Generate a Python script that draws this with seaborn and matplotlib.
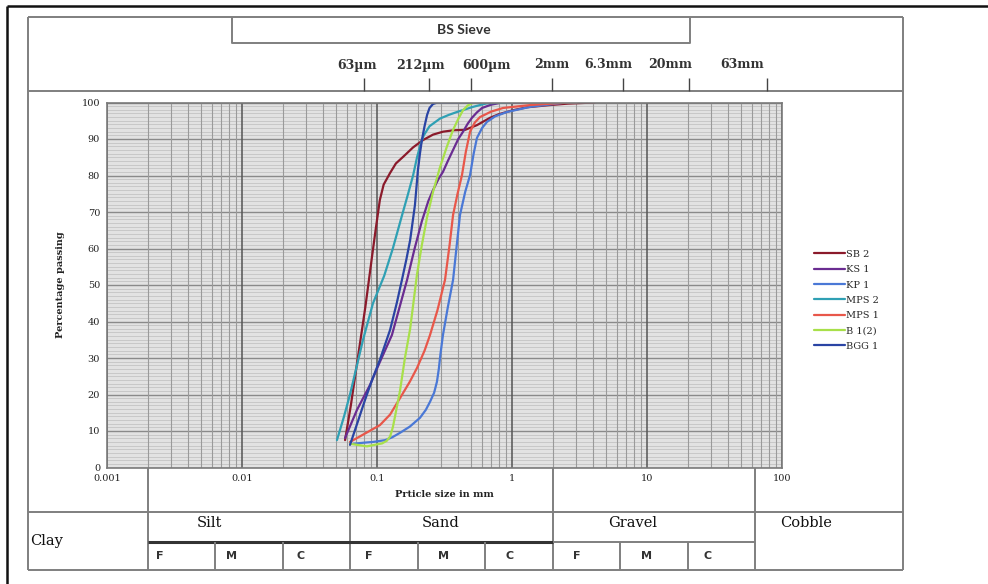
import numpy as np
import pandas as pd
import matplotlib
matplotlib.use("Agg")
import matplotlib.pyplot as plt
import matplotlib.ticker as mticker
from matplotlib import transforms
from matplotlib.lines import Line2D
import seaborn as sns

# Grading curves: particle size (mm) and percentage passing
sb2_size = [0.058, 0.064, 0.0723, 0.082, 0.0918, 0.098, 0.105, 0.112, 0.125, 0.138, 0.156, 0.185,
            0.219, 0.26, 0.308, 0.37, 0.449, 0.55, 0.687, 0.8, 1.02, 1.3, 1.91, 2.6, 4.1]
sb2_pass = [7.5, 17.0, 30.3, 44.0, 57.7, 65.5, 73.3, 77.5, 80.7, 83.3, 85.1, 87.7,
            89.7, 91.2, 92.0, 92.4, 92.5, 93.8, 95.8, 96.8, 97.9, 98.7, 99.3, 99.7, 100]

ks1_size = [0.058, 0.0711, 0.0887, 0.105, 0.129, 0.167, 0.19, 0.215, 0.24, 0.26, 0.285, 0.308,
            0.335, 0.366, 0.40, 0.434, 0.47, 0.505, 0.55, 0.60, 0.7, 0.815, 1.2]
ks1_pass = [8.1, 15.8, 22.6, 28.9, 36.3, 51.4, 60.0, 67.5, 73.0, 76.0, 79.0, 81.0,
            84.0, 87.0, 90.0, 92.0, 94.2, 95.8, 97.3, 98.5, 99.4, 99.9, 100]

kp1_size = [0.0664, 0.08, 0.0934, 0.115, 0.13, 0.148, 0.175, 0.208, 0.23, 0.247, 0.265, 0.278,
            0.287, 0.295, 0.308, 0.335, 0.366, 0.39, 0.412, 0.45, 0.489, 0.52, 0.55, 0.60,
            0.653, 0.75, 0.918, 1.36, 2.39, 3.0]
kp1_pass = [6.5, 6.8, 7.0, 7.5, 8.3, 9.5, 11.2, 13.6, 15.8, 18.0, 20.5, 23.5,
            27.0, 31.0, 36.3, 44.0, 51.4, 61.0, 69.2, 75.5, 80.1, 86.0, 90.3, 93.0,
            94.7, 96.2, 97.4, 98.8, 99.9, 100]

mps2_size = [0.0505, 0.057, 0.0631, 0.07, 0.0788, 0.0934, 0.113, 0.131, 0.153, 0.17, 0.185, 0.198,
             0.21, 0.222, 0.245, 0.293, 0.34, 0.391, 0.514, 0.653, 1.0]
mps2_pass = [7.5, 14.0, 20.0, 27.0, 35.0, 45.0, 52.5, 60.0, 69.0, 75.0, 80.0, 85.0,
             88.5, 91.0, 93.5, 95.6, 96.6, 97.4, 98.8, 99.8, 100]

mps1_size = [0.0631, 0.0788, 0.105, 0.125, 0.148, 0.175, 0.198, 0.225, 0.247, 0.28, 0.319, 0.345,
             0.366, 0.395, 0.426, 0.455, 0.489, 0.53, 0.579, 0.7, 0.858, 1.36, 2.39, 3.0]
mps1_pass = [7.0, 9.0, 11.6, 14.5, 19.0, 23.5, 27.3, 32.0, 36.3, 43.0, 51.4, 61.0,
             69.2, 75.0, 80.1, 86.5, 92.0, 94.5, 96.0, 97.5, 98.5, 99.3, 99.9, 100]

b12_size = [0.0631, 0.0843, 0.109, 0.118, 0.125, 0.131, 0.136, 0.148, 0.161, 0.176, 0.198, 0.215,
            0.235, 0.26, 0.293, 0.33, 0.366, 0.40, 0.434, 0.47, 0.514, 0.8]
b12_pass = [6.5, 5.8, 6.6, 7.3, 8.5, 11.0, 14.0, 21.0, 30.0, 38.0, 53.0, 61.0,
            68.6, 75.5, 82.3, 88.0, 92.5, 95.5, 97.9, 99.2, 99.9, 100]

bgg1_size = [0.0631, 0.072, 0.0815, 0.092, 0.105, 0.125, 0.14, 0.153, 0.165, 0.176, 0.191, 0.201,
             0.208, 0.215, 0.225, 0.235, 0.245, 0.26, 0.28, 0.8]
bgg1_pass = [6.2, 12.5, 18.5, 24.0, 29.5, 37.7, 45.0, 51.4, 57.0, 62.3, 71.9, 81.5,
             86.0, 89.7, 93.5, 96.6, 98.5, 99.6, 100, 100]

samples = ["SB 2", "KS 1", "KP 1", "MPS 2", "MPS 1", "B 1(2)", "BGG 1"]
sizes = [sb2_size, ks1_size, kp1_size, mps2_size, mps1_size, b12_size, bgg1_size]
passing = [sb2_pass, ks1_pass, kp1_pass, mps2_pass, mps1_pass, b12_pass, bgg1_pass]
colors = ["#8b1a2b", "#6a2c91", "#4a78d6", "#2fa0b4", "#e8574a", "#a8e04a", "#2a44a4"]

x_ticks = [0.001, 0.01, 0.1, 1, 10, 100]
x_tick_labels = ["0.001", "0.01", "0.1", "1", "10", "100"]

sieve_labels = ["63µm", "212µm", "600µm", "2mm", "6.3mm", "20mm", "63mm"]

# soil classes under the chart: boundaries in mm
main_bounds = [0.002, 0.063, 2, 63]
sub_bounds = [0.0063, 0.02, 0.2, 0.63, 6.3, 20]
main_classes = ["Silt", "Sand", "Gravel", "Cobble"]
sub_classes = ["F", "M", "C"] * 3

rows = []
for name, xs, ys in zip(samples, sizes, passing):
    for x, y in zip(xs, ys):
        rows.append({"sample": name, "size": x, "passing": y})
df = pd.DataFrame(rows)

sns.set_style("white")
plt.rcParams["font.family"] = ["DejaVu Serif", "DejaVu Sans"]

W, H = 988, 584
fig = plt.figure(figsize=(W / 100, H / 100), dpi=100)


def fx(x):
    return x / W


def fy(y):
    return 1 - y / H


def fline(xs, ys, color="#808080", lw=1.4, trans=None):
    if trans is None:
        xs = [fx(v) for v in xs]
        trans = fig.transFigure
    fig.add_artist(Line2D(xs, [fy(v) for v in ys], color=color, lw=lw,
                          transform=trans, solid_capstyle="butt"))


ax = fig.add_axes([fx(107), fy(467.5), (782 - 107) / W, (467.5 - 102.5) / H])
ax.set_facecolor("#e2e2e2")

sns.lineplot(data=df, x="size", y="passing", hue="sample", hue_order=samples,
             palette=dict(zip(samples, colors)), sort=False, estimator=None,
             lw=1.6, ax=ax)

ax.set_xscale("log")
ax.set_xlim(0.001, 100)
ax.set_ylim(0, 100)
ax.set_xticks(x_ticks)
ax.set_xticklabels(x_tick_labels)
ax.set_yticks(range(0, 101, 10))
ax.xaxis.set_minor_locator(mticker.LogLocator(base=10, subs=range(2, 10)))
ax.xaxis.set_minor_formatter(mticker.NullFormatter())
ax.yaxis.set_minor_locator(mticker.MultipleLocator(1))
ax.set_axisbelow(True)
ax.xaxis.set_zorder(0.6)  # vertical grid over the dense horizontal one
ax.grid(which="minor", axis="y", color="#bdbdbd", lw=0.5)
ax.grid(which="major", axis="y", color="#8a8a8a", lw=1.0)
ax.grid(which="minor", axis="x", color="#9a9a9a", lw=0.8)
ax.grid(which="major", axis="x", color="#555555", lw=1.1)
ax.tick_params(which="minor", length=0)
ax.tick_params(axis="x", which="major", length=0, pad=5, labelsize=7, labelcolor="#222222")
ax.tick_params(axis="y", which="major", length=3, width=0.8, color="#666666", pad=2,
               labelsize=7, labelcolor="#222222")
for s in ax.spines.values():
    s.set_color("#7a7a7a")
    s.set_linewidth(1.2)

ax.set_xlabel("Prticle size in mm", fontsize=7, fontweight="bold", color="#222222", labelpad=5)
ax.set_ylabel("Percentage passing", fontsize=7, fontweight="bold", color="#222222", labelpad=12)

handles, labels = ax.get_legend_handles_labels()
for h in handles:
    h.set_linewidth(1.6)
ax.legend(handles, labels, loc="upper left", bbox_to_anchor=(fx(809), fy(245)),
          bbox_transform=fig.transFigure, frameon=False, fontsize=7, borderpad=0,
          handlelength=3.2, handletextpad=0.15, labelspacing=0.65)

# outer black border of the picture
fline([7, W], [5.5, 5.5], color="#111111", lw=1.8)
fline([7, 7], [5.5, H], color="#111111", lw=1.8)

# grey frame around the whole chart
grey = "#7f7f7f"
fline([28, 903], [17, 17], grey)
fline([28, 28], [17, 570], grey)
fline([903, 903], [17, 570], grey)
fline([28, 903], [570, 570], grey)
fline([28, 903], [91, 91], grey)

# BS sieve header box
fline([232, 232, 690, 690], [17, 43, 43, 17], grey)
fig.text(fx(464), fy(30), "BS Sieve", ha="center", va="center", fontsize=10,
         fontweight="bold", family=["Lato", "DejaVu Sans"], color="#333333")

sieve_tick_px = [364, 429, 471, 552, 623, 689, 767]
sieve_text_px = [357, 420, 486, 552, 608, 670, 742]
for lab, tx, lx in zip(sieve_labels, sieve_tick_px, sieve_text_px):
    fline([tx, tx], [78, 91], color="#444444", lw=1.0)
    fig.text(fx(lx), fy(65), lab, ha="center", va="center", fontsize=9,
             fontweight="bold", color="#333333")

# soil classification table below the axis
blend = transforms.blended_transform_factory(ax.transData, fig.transFigure)
for b in main_bounds:
    fline([b, b], [467.5, 570], grey, trans=blend)
fline([28, 903], [512, 512], grey)
fline([0.002, 2], [542, 542], color="#333333", lw=2.2, trans=blend)
fline([2, 63], [542, 542], grey, trans=blend)
for b in sub_bounds:
    fline([b, b], [542, 570], grey, trans=blend)

class_text_px = [209, 441, 633, 806]
for lab, x in zip(main_classes, class_text_px):
    fig.text(fx(x), fy(523), lab, ha="center", va="center", fontsize=10.5, color="#111111")
fig.text(fx(30), fy(541), "Clay", ha="left", va="center", fontsize=10.5, color="#111111")

sub_text_px = [160, 231, 301, 369, 443, 510, 577, 646, 708]
for lab, x in zip(sub_classes, sub_text_px):
    fig.text(fx(x), fy(556), lab, ha="center", va="center", fontsize=8,
             fontweight="bold", family=["DejaVu Sans"], color="#333333")

fig.savefig("out.png", dpi=100, facecolor="white")
